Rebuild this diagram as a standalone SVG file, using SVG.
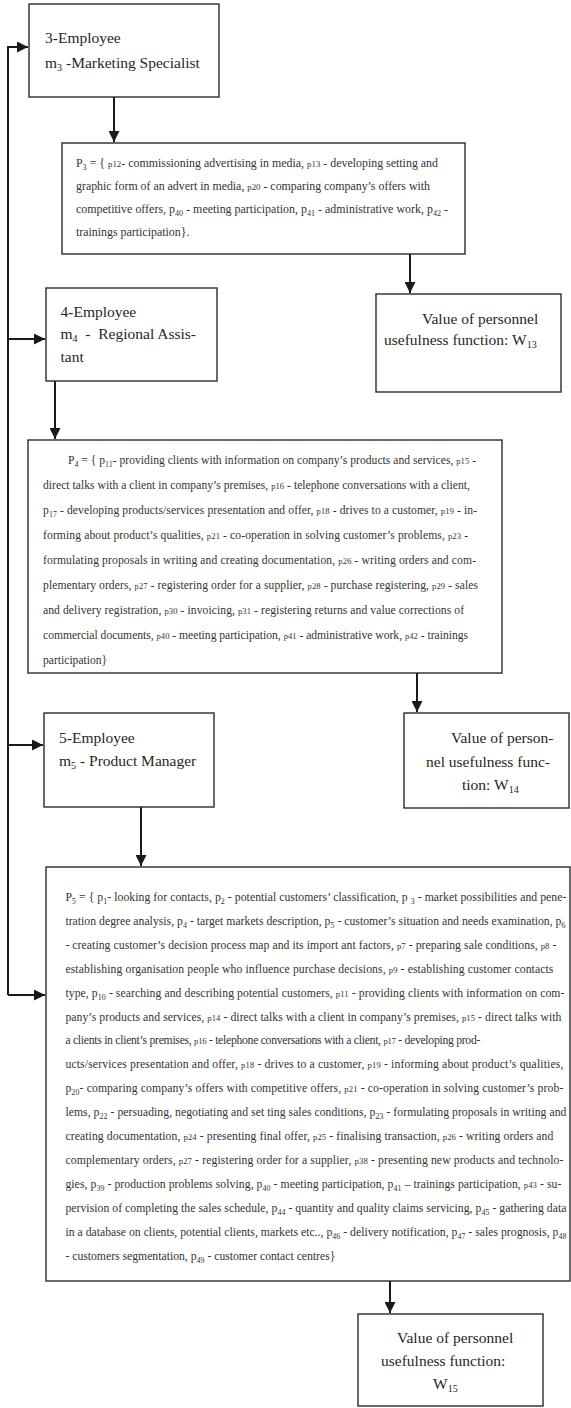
<svg xmlns="http://www.w3.org/2000/svg" width="571" height="1408" viewBox="0 0 571 1408">
<style>
.box{fill:#fff;stroke:#2a2a2a;stroke-width:1.4}
.lbl{font-family:"Liberation Serif","Times New Roman",serif;font-size:15.5px;fill:#262626}
.txt{font-family:"Liberation Serif","Times New Roman",serif;fill:#333}
.t3{font-size:11.9px}
.t4{font-size:11.6px}
.t5{font-size:11.7px}
.sub{font-size:68%;baseline-shift:-2.5px}
.lsub{font-size:65%;baseline-shift:-3px}
.k{font-size:74%}
.con{fill:none;stroke:#1a1a1a;stroke-width:2}
</style>
<defs>
<marker id="ah" markerUnits="userSpaceOnUse" markerWidth="12" markerHeight="11" refX="11" refY="5.5" orient="auto">
<path d="M0,0 L11,5.5 L0,11 z" fill="#1a1a1a"/>
</marker>
</defs>
<rect width="571" height="1408" fill="#fff"/>

<g id="connectors">
<path class="con" d="M8,995 V47 H28" marker-end="url(#ah)"/>
<path class="con" d="M8,339 H45" marker-end="url(#ah)"/>
<path class="con" d="M8,745 H43" marker-end="url(#ah)"/>
<path class="con" d="M8,995 H45" marker-end="url(#ah)"/>
<path class="con" d="M114,97 V142" marker-end="url(#ah)"/>
<path class="con" d="M410,254 V293" marker-end="url(#ah)"/>
<path class="con" d="M55,381 V439" marker-end="url(#ah)"/>
<path class="con" d="M417,673 V712" marker-end="url(#ah)"/>
<path class="con" d="M141,807 V866" marker-end="url(#ah)"/>
<path class="con" d="M390,1281 V1313" marker-end="url(#ah)"/>
</g>

<g id="employee3">
<rect class="box" x="29" y="4" width="190" height="93"/>
<text class="lbl" x="45" y="43">3-Employee</text>
<text class="lbl" x="45" y="68">m<tspan class="lsub">3</tspan> -Marketing Specialist</text>
</g>

<g id="P3">
<rect class="box" x="62" y="143" width="403" height="111"/>
<text class="txt t3" x="76" y="167" textLength="362" lengthAdjust="spacing">P<tspan class="sub">3</tspan> = { <tspan class="k">p12</tspan>- commissioning advertising in media, <tspan class="k">p13</tspan> - developing setting and</text>
<text class="txt t3" x="76" y="190" textLength="354" lengthAdjust="spacing">graphic form of an advert in media, <tspan class="k">p20</tspan> - comparing company’s offers with</text>
<text class="txt t3" x="76" y="213" textLength="372" lengthAdjust="spacing">competitive offers, p<tspan class="sub">40</tspan> - meeting participation, p<tspan class="sub">41</tspan> - administrative work, p<tspan class="sub">42</tspan> -</text>
<text class="txt t3" x="76" y="236">trainings participation}.</text>
</g>

<g id="W13">
<rect class="box" x="376" y="294" width="185" height="98"/>
<text class="lbl" x="422" y="324">Value of personnel</text>
<text class="lbl" x="384" y="345">usefulness function: W<tspan class="lsub">13</tspan></text>
</g>

<g id="employee4">
<rect class="box" x="46" y="288" width="171" height="93"/>
<text class="lbl" x="60.5" y="316.5">4-Employee</text>
<text class="lbl" x="60.5" y="339" style="white-space:pre">m<tspan class="lsub">4</tspan>  -  Regional Assis-</text>
<text class="lbl" x="60.5" y="361.5">tant</text>
</g>

<g id="P4">
<rect class="box" x="28" y="440" width="474" height="233"/>
<text class="txt t4" x="68" y="463.6" textLength="408" lengthAdjust="spacing">P<tspan class="sub">4</tspan> = { p<tspan class="sub">11</tspan>- providing clients with information on company’s products and services, <tspan class="k">p15</tspan> -</text>
<text class="txt t4" x="43" y="488.7" textLength="427" lengthAdjust="spacing">direct talks  with a client in company’s premises, <tspan class="k">p16</tspan> - telephone conversations with a client,</text>
<text class="txt t4" x="43" y="513.8" textLength="434" lengthAdjust="spacing">p<tspan class="sub">17</tspan> - developing products/services presentation and offer, <tspan class="k">p18</tspan> - drives to a customer, <tspan class="k">p19</tspan> - in-</text>
<text class="txt t4" x="43" y="538.9" textLength="425" lengthAdjust="spacing">forming about product’s qualities, <tspan class="k">p21</tspan> - co-operation in solving customer’s problems, <tspan class="k">p23</tspan> -</text>
<text class="txt t4" x="43" y="564" textLength="433" lengthAdjust="spacing">formulating proposals in writing and creating documentation, <tspan class="k">p26</tspan> - writing orders and com-</text>
<text class="txt t4" x="43" y="589" textLength="435" lengthAdjust="spacing">plementary orders, <tspan class="k">p27</tspan> - registering order for a supplier, <tspan class="k">p28</tspan> - purchase registering, <tspan class="k">p29</tspan> - sales</text>
<text class="txt t4" x="43" y="614" textLength="421" lengthAdjust="spacing">and delivery registration, <tspan class="k">p30</tspan> - invoicing, <tspan class="k">p31</tspan> - registering returns and value corrections of</text>
<text class="txt t4" x="43" y="639" textLength="425" lengthAdjust="spacing">commercial documents, <tspan class="k">p40</tspan> - meeting participation, <tspan class="k">p41</tspan> - administrative work, <tspan class="k">p42</tspan> - trainings</text>
<text class="txt t4" x="43" y="664">participation}</text>
</g>

<g id="W14">
<rect class="box" x="404" y="713" width="165" height="95"/>
<text class="lbl" x="451" y="743">Value of person-</text>
<text class="lbl" x="426" y="766.5">nel usefulness func-</text>
<text class="lbl" x="462" y="790">tion: W<tspan class="lsub">14</tspan></text>
</g>

<g id="employee5">
<rect class="box" x="44" y="713" width="170" height="94"/>
<text class="lbl" x="59" y="743">5-Employee</text>
<text class="lbl" x="59" y="766">m<tspan class="lsub">5</tspan> - Product Manager</text>
</g>

<g id="P5">
<rect class="box" x="46" y="867" width="524" height="414"/>
<text class="txt t5" x="65.4" y="901" textLength="501" lengthAdjust="spacing">P<tspan class="sub">5</tspan> = { p<tspan class="sub">1</tspan>- looking for contacts, p<tspan class="sub">2</tspan> - potential customers’ classification, p <tspan class="sub">3</tspan> - market possibilities and pene-</text>
<text class="txt t5" x="65.4" y="924.9" textLength="500" lengthAdjust="spacing">tration degree analysis, p<tspan class="sub">4</tspan> - target markets description, p<tspan class="sub">5</tspan> - customer’s situation and needs examination, p<tspan class="sub">6</tspan></text>
<text class="txt t5" x="65.4" y="948.8" textLength="491" lengthAdjust="spacing">- creating customer’s decision process map and its import ant factors, <tspan class="k">p7</tspan> - preparing sale conditions, <tspan class="k">p8</tspan> -</text>
<text class="txt t5" x="65.4" y="972.7" textLength="488" lengthAdjust="spacing">establishing organisation people who influence purchase decisions, <tspan class="k">p9</tspan> - establishing customer contacts</text>
<text class="txt t5" x="65.4" y="996.6" textLength="499" lengthAdjust="spacing">type, p<tspan class="sub">10</tspan> - searching and describing potential customers, <tspan class="k">p11</tspan> - providing clients with information on com-</text>
<text class="txt t5" x="65.4" y="1020.5" textLength="496" lengthAdjust="spacing">pany’s products and services, <tspan class="k">p14</tspan> - direct talks with a client in company’s premises, <tspan class="k">p15</tspan> - direct talks with</text>
<text class="txt t5" x="65.4" y="1044.4" textLength="415" lengthAdjust="spacing">a clients in client’s premises, <tspan class="k">p16</tspan> - telephone conversations with a client, <tspan class="k">p17</tspan> - developing prod-</text>
<text class="txt t5" x="65.4" y="1068.3" textLength="498" lengthAdjust="spacing">ucts/services presentation and offer, <tspan class="k">p18</tspan> - drives to a customer, <tspan class="k">p19</tspan> - informing about product’s qualities,</text>
<text class="txt t5" x="65.4" y="1092.2" textLength="498" lengthAdjust="spacing">p<tspan class="sub">20</tspan>- comparing company’s offers with competitive offers, <tspan class="k">p21</tspan> - co-operation in solving customer’s prob-</text>
<text class="txt t5" x="65.4" y="1116.1" textLength="501" lengthAdjust="spacing">lems, p<tspan class="sub">22</tspan> - persuading, negotiating and set ting sales conditions, p<tspan class="sub">23</tspan> - formulating proposals in writing and</text>
<text class="txt t5" x="65.4" y="1140" textLength="488" lengthAdjust="spacing">creating documentation, <tspan class="k">p24</tspan> - presenting final offer, <tspan class="k">p25</tspan> - finalising transaction, <tspan class="k">p26</tspan> - writing orders and</text>
<text class="txt t5" x="65.4" y="1163.9" textLength="498" lengthAdjust="spacing">complementary orders, <tspan class="k">p27</tspan> - registering order for a supplier, <tspan class="k">p38</tspan> - presenting new products and technolo-</text>
<text class="txt t5" x="65.4" y="1187.8" textLength="496" lengthAdjust="spacing">gies, p<tspan class="sub">39</tspan> - production problems solving, p<tspan class="sub">40</tspan> - meeting participation,  p<tspan class="sub">41</tspan> – trainings participation, <tspan class="k">p43</tspan> - su-</text>
<text class="txt t5" x="65.4" y="1211.7" textLength="501" lengthAdjust="spacing">pervision of completing the sales schedule, p<tspan class="sub">44</tspan> - quantity and quality claims servicing, p<tspan class="sub">45</tspan> - gathering data</text>
<text class="txt t5" x="65.4" y="1235.6" textLength="501" lengthAdjust="spacing">in a database on clients, potential clients, markets etc.., p<tspan class="sub">46</tspan> - delivery notification, p<tspan class="sub">47</tspan> - sales prognosis, p<tspan class="sub">48</tspan></text>
<text class="txt t5" x="65.4" y="1259.5">- customers segmentation, p<tspan class="sub">49</tspan> - customer contact centres}</text>
</g>

<g id="W15">
<rect class="box" x="358" y="1314" width="185" height="92"/>
<text class="lbl" x="397" y="1343">Value of personnel</text>
<text class="lbl" x="381" y="1366">usefulness function:</text>
<text class="lbl" x="433" y="1389">W<tspan class="lsub">15</tspan></text>
</g>
</svg>
